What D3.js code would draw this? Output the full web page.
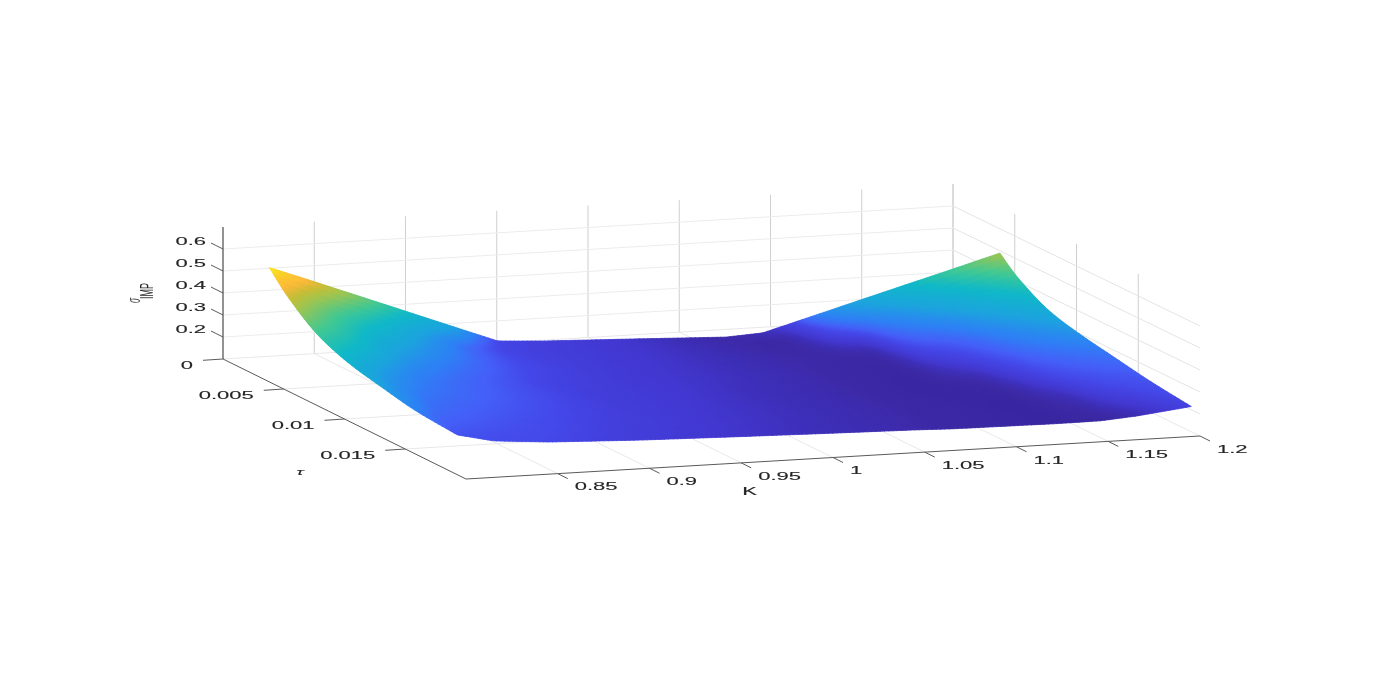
<!DOCTYPE html>
<html>
<head>
<meta charset="utf-8">
<title>Implied volatility surface</title>
<script src="https://cdn.jsdelivr.net/npm/d3@7"></script>
<style>
  html, body { margin: 0; padding: 0; background: #fff; overflow: hidden; }
  svg { display: block; }
  text { font-family: "Liberation Sans", Arial, sans-serif; fill: #262626; stroke: #262626; stroke-width: 0.12; }
</style>
</head>
<body>
<svg id="chart" width="1377" height="678"></svg>
<script>
'use strict';

// axis ticks
var kTicks = [0.85, 0.9, 0.95, 1, 1.05, 1.1, 1.15, 1.2];
var kTickLabels = ['0.85', '0.9', '0.95', '1', '1.05', '1.1', '1.15', '1.2'];
var tauTicks = [0, 0.005, 0.01, 0.015];
var tauTickLabels = ['0', '0.005', '0.01', '0.015'];
var sigmaTicks = [0.2, 0.3, 0.4, 0.5, 0.6];
var sigmaTickLabels = ['0.2', '0.3', '0.4', '0.5', '0.6'];

// surface grid
var kValues = [0.8, 0.82, 0.85, 0.9, 0.925, 0.95, 1, 1.05, 1.07, 1.1, 1.125, 1.15, 1.17, 1.2];
var tauValues = [0.0038, 0.0052, 0.008, 0.0105, 0.0129, 0.0162, 0.0193];
var sigmaTau1 = [0.62, 0.558, 0.463, 0.304, 0.2245, 0.212, 0.197, 0.181, 0.19, 0.259, 0.317, 0.3745, 0.42, 0.49];
var sigmaTau2 = [0.535, 0.46, 0.375, 0.245, 0.218, 0.21, 0.197, 0.181, 0.177, 0.228, 0.265, 0.31, 0.355, 0.42];
var sigmaTau3 = [0.416, 0.375, 0.295, 0.233, 0.218, 0.208, 0.196, 0.184, 0.18, 0.178, 0.23, 0.25, 0.285, 0.332];
var sigmaTau4 = [0.361, 0.31, 0.262, 0.225, 0.213, 0.206, 0.195, 0.184, 0.178, 0.175, 0.2, 0.23, 0.26, 0.295];
var sigmaTau5 = [0.33, 0.285, 0.254, 0.222, 0.21, 0.205, 0.193, 0.183, 0.177, 0.174, 0.178, 0.21, 0.24, 0.27];
var sigmaTau6 = [0.295, 0.268, 0.24, 0.215, 0.208, 0.202, 0.192, 0.183, 0.178, 0.175, 0.172, 0.185, 0.21, 0.237];
var sigmaTau7 = [0.281, 0.244, 0.2245, 0.209, 0.204, 0.199, 0.19, 0.182, 0.177, 0.175, 0.173, 0.174, 0.186, 0.215];
var sigmaRows = [sigmaTau1, sigmaTau2, sigmaTau3, sigmaTau4, sigmaTau5, sigmaTau6, sigmaTau7];

// colour ramp, parula as it falls on this surface
var colorStops = [0.172, 0.18, 0.19, 0.2, 0.2245, 0.235, 0.255, 0.3, 0.372, 0.425, 0.487, 0.52, 0.55, 0.59, 0.62];
var colorValues = ['#3a27a0', '#3d2ba8', '#3e30b8', '#4338d0', '#4548e8', '#4560f8', '#2f80f5', '#1da3de', '#10b8c8', '#3fc895', '#a0c550', '#c8bd35', '#feb83c', '#f9d028', '#f9f01e'];

var svg = d3.select('#chart');
var root = svg.append('g').style('filter', 'blur(0.45px)');

var kScale = d3.scaleLinear().domain([0.8, 1.2]).range([0, 1]);
var tauScale = d3.scaleLinear().domain([0, 0.02]).range([0, 1]);
var sigmaScale = d3.scaleLinear().domain([0.1, 0.7]).range([0, 132]);
var color = d3.scaleLinear().domain(colorStops).range(colorValues).clamp(true);
var midBand = d3.scaleLinear().domain([0.225, 0.28, 0.32, 0.372]).range([0, 1, 1, 0]).clamp(true);

// oblique view of the box, the far edge is a bit shorter than the near one
function project(K, tau, sigma) {
  var k = kScale(K), t = tauScale(tau);
  return [
    223 + 730 * k + 243 * t + 4 * k * t,
    359 - 43 * k + 120 * t - sigmaScale(sigma)
  ];
}

// heights read too tall on the near side of the box, colours do not
function colorOf(sigma, tau) {
  return color(sigma - 0.065 * (tauScale(tau) - 0.19) * midBand(sigma));
}

var line = d3.line();
var kMin = 0.8, kMax = 1.2, tauMax = 0.02, sigmaMin = 0.1, sigmaMax = 0.7;

function addLine(parent, a, b, stroke, width) {
  parent.append('path')
    .attr('d', line([a, b]))
    .attr('fill', 'none')
    .attr('stroke', stroke)
    .attr('stroke-width', width);
}

// grid
var grid = root.append('g');
var gridFloor = '#e8e8e8';
var gridBack = '#ececec';
var gridSide = '#e4e4e4';
var gridUp = '#cfcfcf';

kTicks.forEach(function(K) {
  addLine(grid, project(K, 0, sigmaMin), project(K, 0, sigmaMax), gridUp, 1);
  addLine(grid, project(K, 0, sigmaMin), project(K, tauMax, sigmaMin), gridFloor, 1);
});
tauTicks.forEach(function(tau) {
  addLine(grid, project(kMin, tau, sigmaMin), project(kMax, tau, sigmaMin), gridFloor, 1);
  addLine(grid, project(kMax, tau, sigmaMin), project(kMax, tau, sigmaMax), gridUp, 1);
});
sigmaTicks.forEach(function(s) {
  addLine(grid, project(kMin, 0, s), project(kMax, 0, s), gridBack, 1);
  addLine(grid, project(kMax, 0, s), project(kMax, tauMax, s), gridSide, 1);
});

// monotone cubic through the read values, same idea as shading interp
function smoothThrough(xs, ys) {
  var d = d3.pairs(xs).map(function(p, i) { return (ys[i + 1] - ys[i]) / (p[1] - p[0]); });
  var m = xs.map(function(x, i) {
    if (i === 0) return d[0];
    if (i === xs.length - 1) return d[d.length - 1];
    if (d[i - 1] * d[i] <= 0) return 0;
    return 2 * d[i - 1] * d[i] / (d[i - 1] + d[i]);
  });
  return function(x) {
    var i = Math.max(0, Math.min(d3.bisectRight(xs, x) - 1, xs.length - 2));
    var h = xs[i + 1] - xs[i], s = (x - xs[i]) / h;
    var s2 = s * s, s3 = s2 * s;
    return (2 * s3 - 3 * s2 + 1) * ys[i] + (s3 - 2 * s2 + s) * h * m[i] +
      (-2 * s3 + 3 * s2) * ys[i + 1] + (s3 - s2) * h * m[i + 1];
  };
}

// surface mesh: straight between K nodes for the shape so the kinks stay sharp,
// smooth both ways for the colour
var nK = 170, nTau = 48;
var kAt = d3.scaleLinear().domain([0, nK]).range([kValues[0], kValues[kValues.length - 1]]);
var tauAt = d3.scaleLinear().domain([0, nTau]).range([tauValues[0], tauValues[tauValues.length - 1]]);
var rowShape = sigmaRows.map(function(row) { return d3.scaleLinear().domain(kValues).range(row); });
var rowSmooth = sigmaRows.map(function(row) { return smoothThrough(kValues, row); });

function buildMesh(rowFns) {
  return d3.range(nK + 1).map(function(i) {
    var K = kAt(i);
    var column = smoothThrough(tauValues, rowFns.map(function(fn) { return fn(K); }));
    return d3.range(nTau + 1).map(function(j) { return column(tauAt(j)); });
  });
}
var mesh = buildMesh(rowShape);
var meshColor = buildMesh(rowSmooth);

var cells = [];
d3.range(nTau).forEach(function(j) {
  d3.range(nK).forEach(function(i) { cells.push({i: i, j: j}); });
});

function meshXY(i, j) { return project(kAt(i), tauAt(j), mesh[i][j]); }

root.append('g').attr('id', 'surface-mesh').selectAll('path')
  .data(cells)
  .enter().append('path')
    .attr('d', function(d) {
      return line([
        meshXY(d.i, d.j), meshXY(d.i + 1, d.j),
        meshXY(d.i + 1, d.j + 1), meshXY(d.i, d.j + 1)
      ]) + 'Z';
    })
    .each(function(d) {
      var s = (meshColor[d.i][d.j] + meshColor[d.i + 1][d.j] + meshColor[d.i + 1][d.j + 1] + meshColor[d.i][d.j + 1]) / 4;
      var col = colorOf(s, tauAt(d.j + 0.5));
      d3.select(this).attr('fill', col).attr('stroke', col).attr('stroke-width', 0.7);
    });

// soft copy on top inside the outline, takes the grain off the mesh and keeps the edge sharp
var outline = []
  .concat(d3.range(nK + 1).map(function(i) { return meshXY(i, 0); }))
  .concat(d3.range(nTau + 1).map(function(j) { return meshXY(nK, j); }))
  .concat(d3.range(nK, -1, -1).map(function(i) { return meshXY(i, nTau); }))
  .concat(d3.range(nTau, -1, -1).map(function(j) { return meshXY(0, j); }));

svg.append('defs').append('clipPath').attr('id', 'surface-clip')
  .append('path').attr('d', line(outline) + 'Z');

root.append('g').attr('clip-path', 'url(#surface-clip)')
  .append('use').attr('href', '#surface-mesh').style('filter', 'blur(1.2px)');

// axes
var axes = root.append('g');
var axisColor = '#5a5a5a';
addLine(axes, project(kMin, 0, sigmaMin), project(kMin, 0, sigmaMax), '#262626', 1);
addLine(axes, project(kMin, 0, sigmaMin), project(kMin, tauMax, sigmaMin), axisColor, 1);
addLine(axes, project(kMin, tauMax, sigmaMin), project(kMax, tauMax, sigmaMin), axisColor, 1);

// the picture is stretched sideways, text too
var stretch = 2.1;
var fontSize = 10.5;

function addText(str, x, y, anchor, opts) {
  opts = opts || {};
  return axes.append('text')
    .attr('transform', 'translate(' + x + ',' + y + ') scale(' + stretch + ',1)')
    .attr('text-anchor', anchor)
    .attr('dominant-baseline', 'middle')
    .attr('font-size', opts.size || fontSize)
    .attr('font-style', opts.italic ? 'italic' : null)
    .text(str);
}

kTicks.forEach(function(K, i) {
  var p = project(K, tauMax, sigmaMin);
  addLine(axes, p, [p[0] + 10, p[1] + 5], axisColor, 1);
  addText(kTickLabels[i], p[0] + 17, p[1] + 14, 'start');
});
tauTicks.forEach(function(tau, i) {
  var p = project(kMin, tau, sigmaMin);
  addLine(axes, p, [p[0] - 20, p[1] + 1.3], axisColor, 1);
  addText(tauTickLabels[i], p[0] - 30, p[1] + 7, 'end');
});
sigmaTicks.forEach(function(s, i) {
  var p = project(kMin, 0, s);
  addLine(axes, p, [p[0] - 12, p[1] - 6], axisColor, 1);
  addText(sigmaTickLabels[i], p[0] - 17, p[1] - 7, 'end');
});

// axis titles
addText('K', 749.5, 492, 'middle');
addText('\u03c4', 300, 473, 'middle', {size: 9, italic: true});

axes.append('text')
  .attr('transform', 'translate(140,303) scale(' + stretch + ',1) rotate(-90)')
  .attr('font-size', 8.5)
  .attr('font-style', 'italic')
  .style('stroke', 'none')
  .style('fill', '#555')
  .text('\u03c3');
axes.append('text')
  .attr('transform', 'translate(153,299) scale(' + stretch + ',1) rotate(-90)')
  .attr('font-size', 9)
  .style('stroke', 'none')
  .text('IMP');
</script>
</body>
</html>
